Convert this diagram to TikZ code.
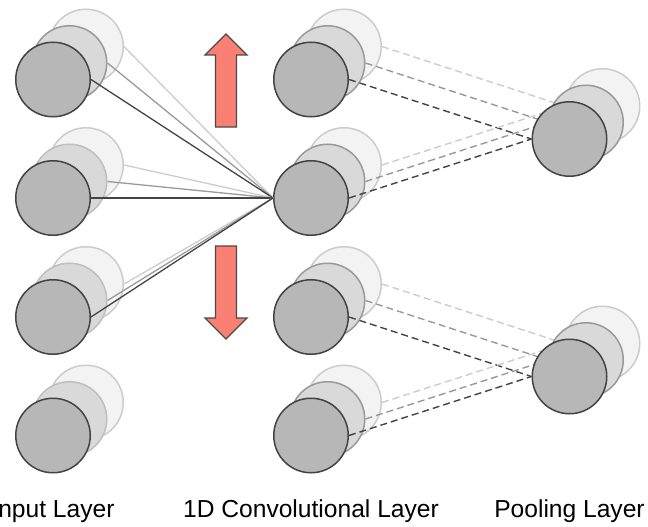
\documentclass[tikz,border=0pt]{standalone}
\usepackage{fontspec}
\setmainfont{Liberation Sans}
\definecolor{frontfill}{HTML}{B7B7B7}
\definecolor{frontdraw}{HTML}{434343}
\definecolor{midfill}{HTML}{D9D9D9}
\definecolor{middraw}{HTML}{999999}
\definecolor{midlight}{HTML}{BFBFBF}
\definecolor{backfill}{HTML}{F3F3F3}
\definecolor{backdraw}{HTML}{CCCCCC}
\definecolor{arrowfill}{RGB}{249,128,114}
\definecolor{arrowdraw}{HTML}{4A4A4A}
\pgfdeclarelayer{top}
\pgfsetlayers{main,top}
\tikzset{
  neuron/.style={circle, minimum size=74.5pt, inner sep=0pt, line width=1.5pt},
  nfront/.style={neuron, fill=frontfill, draw=frontdraw},
  nmid/.style={neuron, fill=midfill, draw=#1},
  nback/.style={neuron, fill=backfill, draw=backdraw},
  lfront/.style={draw=frontdraw, line width=1.3pt},
  lmid/.style={draw=middraw, line width=1.3pt},
  lback/.style={draw=backdraw, line width=1.3pt},
  dfront/.style={lfront, line width=1.4pt, dash pattern=on 7pt off 4pt},
  dmid/.style={lmid, line width=1.4pt, dash pattern=on 7pt off 4pt},
  dback/.style={lback, line width=1.4pt, dash pattern=on 7pt off 4pt},
  bigarrow/.style={fill=arrowfill, draw=arrowdraw, line width=1.3pt, line join=miter},
  layerlabel/.style={anchor=base, font=\fontsize{24.6pt}{28pt}\selectfont, inner sep=0pt}
}
% #1 name prefix, #2 x, #3 y, #4 middle stroke colour
\newcommand\layerstack[4]{%
  \begin{scope}[shift={(#2,#3)}]
    \node[nback] (#1c) at (33,-33) {};
    \node[nmid=#4] (#1b) at (16.5,-16.5) {};
    \node[nfront] (#1a) at (0,0) {};
  \end{scope}}
\begin{document}
\begin{tikzpicture}[x=1pt,y=-1pt]
\useasboundingbox (0,0) rectangle (648,527);
% input layer
\layerstack{iA}{53}{79.5}{middraw}
\layerstack{iB}{53}{198}{midlight}
\layerstack{iC}{53}{317}{midlight}
\layerstack{iD}{53}{435.5}{midlight}
% convolutional layer
\layerstack{cA}{311}{79.5}{middraw}
\layerstack{cB}{311}{198}{middraw}
\layerstack{cC}{311}{317}{middraw}
\layerstack{cD}{311}{435.5}{middraw}
% pooling layer (on top of its incoming connectors)
\begin{pgfonlayer}{top}
\layerstack{pA}{569.5}{139}{middraw}
\layerstack{pB}{569.5}{376.5}{middraw}
\end{pgfonlayer}
% input -> conv connections
\foreach \r in {iA,iB,iC}{
  \draw[lback] (\r c.east) -- (cBa.west);
  \draw[lmid] (\r b.east) -- (cBa.west);
  \draw[lfront] (\r a.east) -- (cBa.west);
}
% conv -> pooling connections
\foreach \s/\p in {cA/pA,cB/pA,cC/pB,cD/pB}{
  \draw[dback] (\s c.east) -- (\p c.west);
  \draw[dmid] (\s b.east) -- (\p b.west);
  \draw[dfront] (\s a.east) -- (\p a.west);
}
% arrows
\draw[bigarrow] (226,34) -- (247,55) -- (236.5,55) -- (236.5,127) -- (215.5,127) -- (215.5,55) -- (205,55) -- cycle;
\draw[bigarrow] (226,339) -- (247,318) -- (236.5,318) -- (236.5,246) -- (215.5,246) -- (215.5,318) -- (205,318) -- cycle;
% labels
\node[layerlabel] (lin) at (53,517) {Input Layer};
\node[layerlabel] (lconv) at (311,517) {1D Convolutional Layer};
\node[layerlabel] (lpool) at (569.5,517) {Pooling Layer};
\end{tikzpicture}
\end{document}
